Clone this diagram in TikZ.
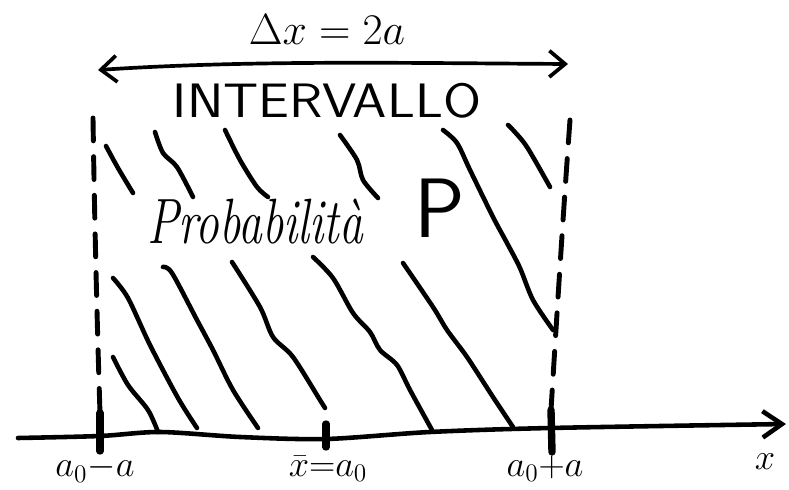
\documentclass[tikz,border=0pt]{standalone}
\usepackage{graphicx}
\usetikzlibrary{arrows.meta}

\begin{document}
\begin{tikzpicture}[x=0.02cm,y=-0.02cm,line cap=round,line join=round]
\tikzset{
  hatch/.style={line width=2.6pt},
  bound/.style={line width=2.8pt,dash pattern=on 13pt off 9pt},
  tickmark/.style={line width=4.2pt},
  axisline/.style={line width=2.6pt,-{Straight Barb[length=11pt,width=15pt]}},
  dimline/.style={line width=2.1pt,{Straight Barb[length=9pt,width=15pt]}-{Straight Barb[length=9pt,width=15pt]}},
  lbl/.style={inner sep=0pt,font=\fontsize{20}{24}\selectfont}}
\useasboundingbox (0,0) rectangle (789,490);
% ---------- axis with ticks ----------
\coordinate (axs) at (18,438);
\coordinate (axe) at (786,424);
\draw[axisline] plot[smooth] coordinates {(axs) (100,436) (160,432) (240,437) (326,439) (430,432) (550,428) (axe)};
\coordinate (tl1) at (100,413); \coordinate (tl2) at (100,451);
\coordinate (tm1) at (326,424); \coordinate (tm2) at (326,447);
\coordinate (tr1) at (551,410); \coordinate (tr2) at (552,452);
\draw[tickmark] (tl1) -- (tl2);
\draw[tickmark] (tm1) -- (tm2);
\draw[tickmark] (tr1) -- (tr2);
% ---------- interval bounds ----------
\coordinate (bl) at (93,118);
\coordinate (br) at (570,120);
\draw[bound] (bl) .. controls (95,250) and (98,350) .. (tl1);
\draw[bound] (br) .. controls (562,230) and (556,330) .. (tr1);
% ---------- width of the interval ----------
\coordinate (dl) at (98,70);
\coordinate (dr) at (568,64);
\draw[dimline] (dl) .. controls (250,60) and (400,63) .. (dr);
\node[lbl,font=\fontsize{25}{30}\selectfont] (delta) at (327,30) {$\Delta x = 2a$};
\node[inner sep=0pt,font=\sffamily\fontsize{25}{30}\selectfont] (intervallo) at (327,101) {\scalebox{1.25}[1.1]{INTERVALLO}};
% ---------- hatching, top row ----------
\draw[hatch] plot[smooth] coordinates {(106,146) (118,168) (133,193)};
\draw[hatch] plot[smooth] coordinates {(155,132) (163,153) (177,167) (193,197)};
\draw[hatch] plot[smooth] coordinates {(225,130) (240,160) (257,187) (268,197)};
\draw[hatch] plot[smooth] coordinates {(340,135) (357,160) (363,180) (378,198)};
\draw[hatch] plot[smooth] coordinates {(443,130) (457,143) (470,170) (493,217) (507,243) (520,268) (533,300) (553,330)};
\draw[hatch] plot[smooth] coordinates {(508,125) (513,130) (527,147) (550,187)};
% ---------- hatching, bottom row ----------
\draw[hatch] plot[smooth] coordinates {(113,357) (128,385) (148,410) (158,432)};
\draw[hatch] plot[smooth] coordinates {(113,278) (128,298) (150,345) (178,398) (197,428)};
\draw[hatch] plot[smooth] coordinates {(163,267) (172,273) (197,320) (213,350) (233,390) (258,428)};
\draw[hatch] plot[smooth] coordinates {(232,262) (260,307) (273,337) (293,357) (320,400) (325,408)};
\draw[hatch] plot[smooth] coordinates {(313,257) (333,278) (353,313) (370,332) (380,350) (397,365) (410,390) (432,430)};
\draw[hatch] plot[smooth] coordinates {(403,263) (433,307) (447,330) (467,357) (493,397) (513,427)};
% ---------- probability ----------
\node[inner sep=0pt,font=\itshape\fontsize{27}{32}\selectfont] (prob) at (255,222) {\scalebox{1}[1.35]{Probabilità}};
\node[inner sep=0pt,font=\sffamily\fontsize{48}{56}\selectfont] (pP) at (440,208) {P};
% ---------- axis labels ----------
\node[lbl] (lbla) at (95,469) {$a_0{-}a$};
\node[lbl] (lblm) at (328,469) {$\bar{x}{=}a_0$};
\node[lbl] (lblb) at (545,469) {$a_0{+}a$};
\node[lbl] (lblx) at (765,462) {$x$};
\end{tikzpicture}
\end{document}
